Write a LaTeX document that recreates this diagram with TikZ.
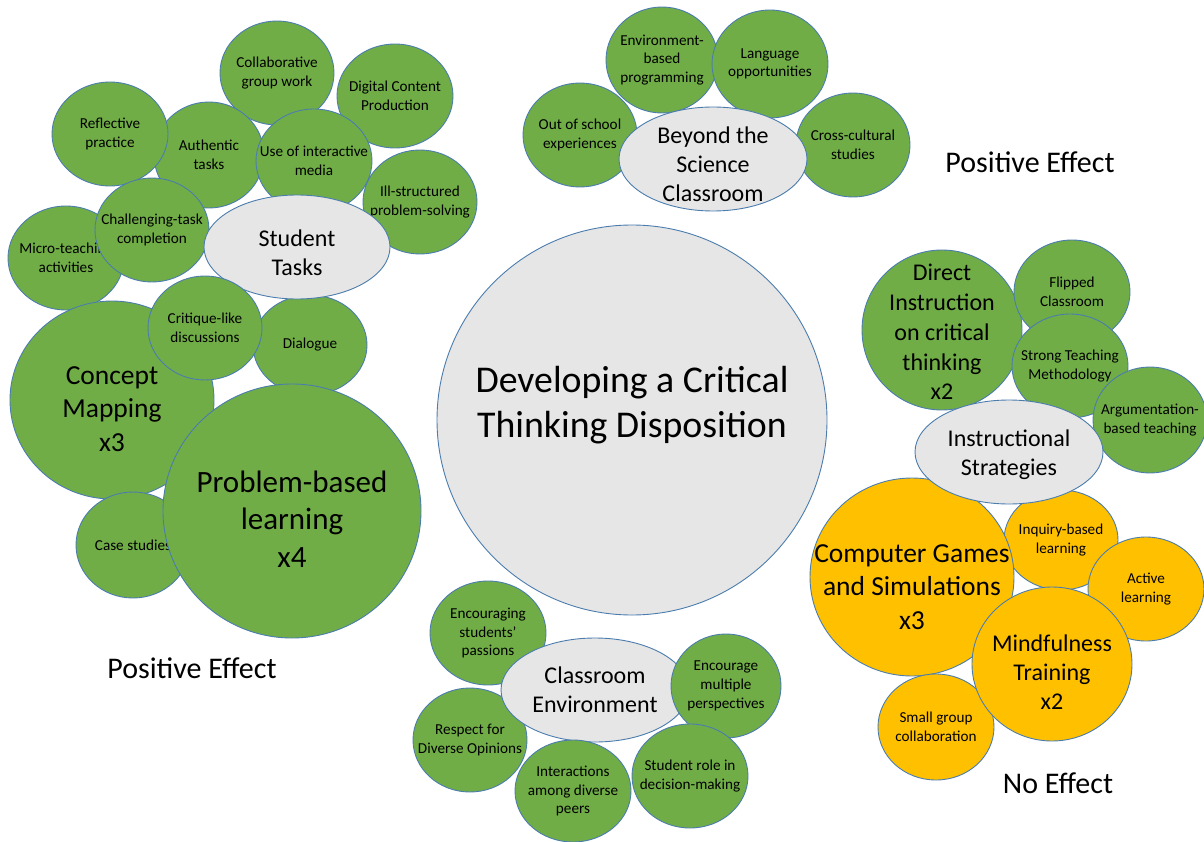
\documentclass[tikz,border=0pt]{standalone}
\usepackage{fontspec}
\setmainfont{Carlito}
\usetikzlibrary{shapes.geometric}

\definecolor{bubgreen}{HTML}{70AD47}
\definecolor{bubyellow}{HTML}{FFC000}
\definecolor{bubgrey}{HTML}{E7E6E6}
\definecolor{bubline}{HTML}{4A7DAE}

\tikzset{
  bub/.style={ellipse, draw=bubline, line width=0.9pt, inner sep=0pt},
  grn/.style={bub, fill=bubgreen},
  ylw/.style={bub, fill=bubyellow},
  gry/.style={bub, fill=bubgrey},
  lbl/.style={align=center, inner sep=0pt, text=black},
  small/.style={lbl, font=\fontsize{15.2}{18.7}\selectfont},
  mid/.style={lbl, font=\fontsize{24}{29}\selectfont},
  tall/.style={lbl, font=\fontsize{24}{29.8}\selectfont},
  big/.style={lbl, font=\fontsize{27.5}{33.5}\selectfont},
  huge/.style={lbl, font=\fontsize{31}{37.5}\selectfont},
  core/.style={lbl, font=\fontsize{37.8}{45}\selectfont},
  caption/.style={lbl, font=\fontsize{30}{36}\selectfont},
}

% \bubble{shape style}{name}{x}{y}{rx}{ry}{text style}{text}
\newcommand\bubble[8]{%
  \node[#1, minimum width=2*#5, minimum height=2*#6] (#2) at (#3,#4) {};
  \node[#7] (#2-t) at (#2.center) {#8};}

\begin{document}
\begin{tikzpicture}[x=1pt, y=-1pt]
\fill[white] (0,0) rectangle (1204,842);
\useasboundingbox (0,0) rectangle (1204,842);

% --- Student Tasks cluster ---
\bubble{grn}{micro}{66}{258}{58}{52}{small}{Micro-teaching\\activities}
\bubble{grn}{collab}{277}{73}{57}{52}{small}{Collaborative\\group work}
\bubble{grn}{digital}{395}{96}{58}{52}{small}{Digital Content\\Production}
\bubble{grn}{authentic}{209}{155}{55}{53}{small}{Authentic\\tasks}
\bubble{grn}{reflective}{110}{134}{58}{52}{small}{Reflective\\practice}
\bubble{grn}{media}{314}{161}{58}{52}{small}{Use of interactive\\media}
\bubble{grn}{illstruct}{420}{202}{57}{52}{small}{Ill-structured\\problem-solving}
\bubble{grn}{challenge}{152}{230}{57}{52}{small}{Challenging-task\\completion}
\bubble{grn}{dialogue}{310}{345}{57}{50}{small}{Dialogue}
\bubble{gry}{tasks}{297}{247}{93}{52}{mid, yshift=-6pt}{Student\\Tasks}
\bubble{grn}{concept}{112}{400}{102}{99}{big, yshift=-9pt}{Concept\\Mapping\\x3}
\bubble{grn}{critique}{205}{328}{57}{52}{small}{Critique-like\\discussions}
\bubble{grn}{cases}{133}{545}{57}{53}{small}{Case studies}
\bubble{grn}{pbl}{292}{511}{129}{127}{huge, yshift=-8pt}{Problem-based\\learning\\x4}

% --- Beyond the Science Classroom cluster ---
\bubble{grn}{envprog}{662}{60}{56}{53}{small}{Environment-\\based\\programming}
\bubble{grn}{language}{770}{64}{58}{54}{small}{Language\\opportunities}
\bubble{grn}{outschool}{580}{135}{57}{52}{small}{Out of school\\experiences}
\bubble{grn}{crosscult}{853}{145}{57}{52}{small}{Cross-cultural\\studies}
\bubble{gry}{beyond}{713}{159}{94}{52}{mid, yshift=-5pt}{Beyond the\\Science\\Classroom}

% --- central idea ---
\bubble{gry}{centre}{632}{420}{195}{195}{core, yshift=15pt}{Developing a Critical\\Thinking Disposition}

% --- Instructional Strategies cluster ---
\bubble{grn}{direct}{942}{330}{80}{80}{tall, yshift=-2pt}{Direct\\Instruction\\on critical\\thinking\\x2}
\bubble{grn}{flipped}{1072}{292}{58}{52}{small}{Flipped\\Classroom}
\bubble{grn}{strong}{1070}{366}{58}{52}{small}{Strong Teaching\\Methodology}
\bubble{grn}{argument}{1150}{420}{57}{53}{small}{Argumentation-\\based teaching}
\bubble{ylw}{inquiry}{1061}{540}{57}{50}{small}{Inquiry-based\\learning}
\bubble{ylw}{active}{1146}{589}{58}{52}{small}{Active\\learning}
\bubble{ylw}{games}{912}{577}{102}{99}{big, yshift=-10pt}{Computer Games\\and Simulations\\x3}
\bubble{gry}{instr}{1009}{452}{94}{52}{mid, yshift=-3pt}{Instructional\\Strategies}
\bubble{ylw}{smallgrp}{936}{727}{58}{53}{small}{Small group\\collaboration}
\bubble{ylw}{mindful}{1052}{664}{80}{77}{mid, yshift=-8pt}{Mindfulness\\Training\\x2}

% --- Classroom Environment cluster ---
\bubble{grn}{passions}{488}{633}{58}{52}{small}{Encouraging\\students’\\passions}
\bubble{grn}{respect}{470}{740}{57}{52}{small}{Respect for\\Diverse Opinions}
\bubble{gry}{classroom}{595}{690}{94}{52}{mid}{Classroom\\Environment}
\bubble{grn}{peers}{573}{791}{58}{51}{small}{Interactions\\among diverse\\peers}
\bubble{grn}{multiple}{726}{686}{55}{52}{small}{Encourage\\multiple\\perspectives}
\bubble{grn}{role}{690}{776}{58}{52}{small}{Student role in\\decision-making}

% --- effect captions ---
\node[caption] (posleft) at (192,668) {Positive Effect};
\node[caption] (posright) at (1030,162) {Positive Effect};
\node[caption] (noeffect) at (1058,783) {No Effect};
\end{tikzpicture}
\end{document}
